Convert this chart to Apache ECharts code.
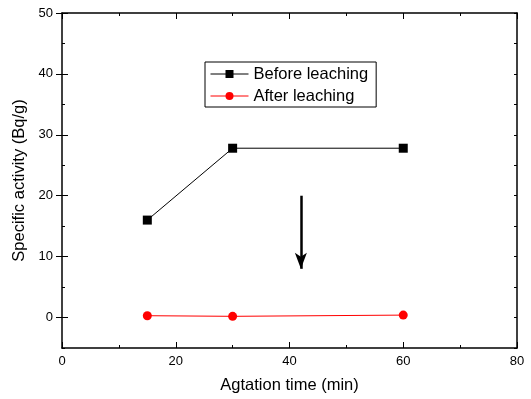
<!DOCTYPE html>
<html>
<head>
<meta charset="utf-8">
<script src="https://cdn.jsdelivr.net/npm/echarts@6/dist/echarts.min.js"></script>
<style>
  html, body { margin: 0; padding: 0; background: #fff; }
  #chart { width: 531px; height: 399px; }
</style>
</head>
<body>
<div id="chart"></div>
<script>
const times = [15, 30, 60];
const beforeLeaching = [16.0, 27.8, 27.8];
const afterLeaching = [0.3, 0.2, 0.4];
const yTickLabels = [0, 10, 20, 30, 40, 50];
// arrow: x position, start value, end value
const arrowX = 42;
const arrowFrom = 20;
const arrowTo = 8;

const FONT = "Liberation Sans, Arial, sans-serif";

const chart = echarts.init(document.getElementById("chart"));

const baseY = {
  type: "value",
  min: -5,
  max: 50,
  interval: 5,
  splitLine: { show: false },
};

const option = {
  backgroundColor: "#fff",
  animation: false,
  grid: { left: 62, right: 14, top: 13, bottom: 51 },
  legend: {
    left: 205,
    top: 62,
    orient: "vertical",
    itemWidth: 38,
    itemHeight: 10,
    itemGap: 4,
    padding: [3, 8, 2, 5],
    borderColor: "#000",
    borderWidth: 1,
    lineStyle: { width: 1 },
    textStyle: { fontFamily: FONT, fontSize: 16.5, lineHeight: 18, color: "#000" },
    data: ["Before leaching", "After leaching"],
  },
  xAxis: [
    {
      type: "value",
      min: 0,
      max: 80,
      interval: 20,
      name: "Agtation time (min)",
      nameLocation: "middle",
      nameGap: 29,
      nameTextStyle: { fontFamily: FONT, fontSize: 16.5, color: "#000" },
      axisLine: { show: true, onZero: false, lineStyle: { color: "#000", width: 1.5 } },
      axisTick: { show: true, inside: true, length: 6, lineStyle: { color: "#000" } },
      minorTick: { show: true, splitNumber: 2, length: 3, lineStyle: { color: "#000" } },
      axisLabel: { fontFamily: FONT, fontSize: 13, color: "#000", margin: 7 },
      splitLine: { show: false },
      minorSplitLine: { show: false },
    },
    {
      type: "value",
      position: "top",
      min: 0,
      max: 80,
      interval: 20,
      axisLine: { show: true, onZero: false, lineStyle: { color: "#000", width: 1.5 } },
      axisTick: { show: true, inside: true, length: 6, lineStyle: { color: "#000" } },
      minorTick: { show: true, splitNumber: 2, length: 3, lineStyle: { color: "#000" } },
      axisLabel: { show: false },
      splitLine: { show: false },
    },
  ],
  yAxis: [
    Object.assign({}, baseY, {
      position: "left",
      name: "Specific activity (Bq/g)",
      nameLocation: "middle",
      nameGap: 31,
      nameTextStyle: { fontFamily: FONT, fontSize: 16.5, color: "#000" },
      axisLine: { show: true, onZero: false, lineStyle: { color: "#000", width: 1.5 } },
      axisTick: { show: true, inside: true, length: 3, lineStyle: { color: "#000" } },
      axisLabel: {
        fontFamily: FONT, fontSize: 13, color: "#000", margin: 9,
        customValues: yTickLabels,
      },
    }),
    Object.assign({}, baseY, {
      position: "left",
      axisLine: { show: false },
      axisTick: { show: true, inside: true, length: 6, customValues: yTickLabels, lineStyle: { color: "#000" } },
      axisLabel: { show: false },
    }),
    Object.assign({}, baseY, {
      position: "right",
      axisLine: { show: true, onZero: false, lineStyle: { color: "#000", width: 1.5 } },
      axisTick: { show: true, inside: true, length: 3, lineStyle: { color: "#000" } },
      axisLabel: { show: false },
    }),
    Object.assign({}, baseY, {
      position: "right",
      axisLine: { show: false },
      axisTick: { show: true, inside: true, length: 6, customValues: yTickLabels, lineStyle: { color: "#000" } },
      axisLabel: { show: false },
    }),
  ],
  series: [
    {
      name: "Before leaching",
      type: "line",
      data: times.map((t, i) => [t, beforeLeaching[i]]),
      symbol: "rect",
      symbolSize: 9,
      color: "#000",
      lineStyle: { width: 1, color: "#000" },
      itemStyle: { color: "#000" },
    },
    {
      name: "After leaching",
      type: "line",
      data: times.map((t, i) => [t, afterLeaching[i]]),
      symbol: "circle",
      symbolSize: 9,
      color: "#ff0000",
      lineStyle: { width: 1, color: "#ff0000" },
      itemStyle: { color: "#ff0000" },
      markLine: {
        silent: true,
        symbol: ["none", "arrow"],
        symbolSize: [9, 16],
        label: { show: false },
        lineStyle: { color: "#000", width: 2.5, type: "solid" },
        data: [[{ coord: [arrowX, arrowFrom] }, { coord: [arrowX, arrowTo] }]],
      },
    },
  ],
};

chart.setOption(option);
</script>
</body>
</html>
